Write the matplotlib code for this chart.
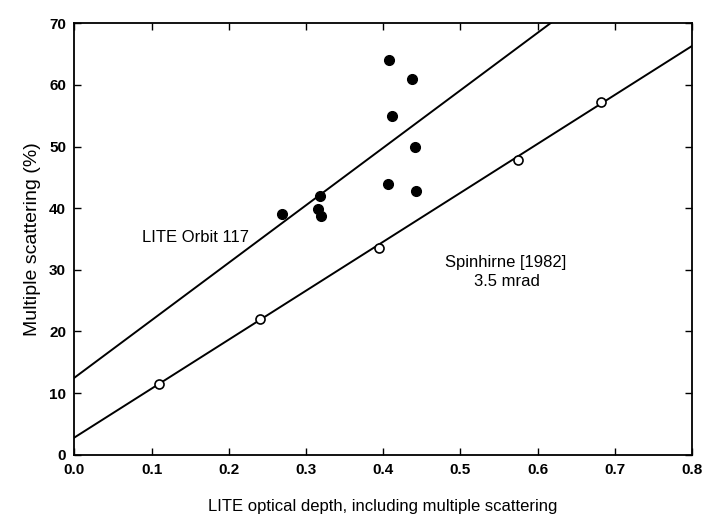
import matplotlib
matplotlib.use("Agg")
import matplotlib.pyplot as plt
import numpy as np

plt.rcParams['font.family'] = ['Liberation Sans', 'DejaVu Sans']

# LITE Orbit 117 data (filled)
lite_x = [0.269, 0.316, 0.318, 0.320, 0.406, 0.408, 0.412, 0.437, 0.441, 0.442]
lite_y = [39.0, 39.8, 42.0, 38.7, 43.9, 64.0, 54.9, 60.9, 49.9, 42.8]
# LITE fit line
lite_line_x = [0.0, 0.62]
lite_line_y = [12.5, 70.3]

# Spinhirne [1982] 3.5 mrad (open circles)
sp_x = [0.11, 0.24, 0.395, 0.575, 0.682]
sp_y = [11.5, 22.0, 33.6, 47.8, 57.2]
sp_line_x = [0.0, 0.8]
sp_line_y = [2.8, 66.3]

xticks = [0.0, 0.1, 0.2, 0.3, 0.4, 0.5, 0.6, 0.7, 0.8]
yticks = [0, 10, 20, 30, 40, 50, 60, 70]

fig = plt.figure(figsize=(7.05, 5.27), dpi=100)
ax = fig.add_axes([0.1055, 0.137, 0.876, 0.819])

ax.plot(lite_line_x, lite_line_y, color='black', lw=1.4, zorder=2)
ax.plot(sp_line_x, sp_line_y, color='black', lw=1.4, zorder=2)
ax.plot(lite_x, lite_y, 'o', color='black', ms=7, zorder=3)
ax.plot(sp_x, sp_y, 'o', mfc='white', mec='black', mew=1.2, ms=6.5, zorder=3)

ax.set_xlim(0, 0.8)
ax.set_ylim(0, 70)
ax.set_xticks(xticks)
ax.set_yticks(yticks)
ax.set_xticklabels([f"{v:.1f}" for v in xticks], fontweight='bold', fontsize=11)
ax.set_yticklabels([str(v) for v in yticks], fontweight='bold', fontsize=11)
ax.tick_params(direction='in', length=5, width=1, top=True, right=True, pad=6)
for s in ax.spines.values():
    s.set_linewidth(1.3)

ax.set_xlabel("LITE optical depth, including multiple scattering", fontsize=12, labelpad=16)
ax.set_ylabel("Multiple scattering (%)", fontsize=14, labelpad=6)

ax.text(0.1575, 35.2, "LITE Orbit 117", ha='center', va='center', fontsize=12)
ax.text(0.558, 31.2, "Spinhirne [1982]", ha='center', va='center', fontsize=12)
ax.text(0.56, 28.1, "3.5 mrad", ha='center', va='center', fontsize=12)

fig.savefig("out.png", dpi=100)
